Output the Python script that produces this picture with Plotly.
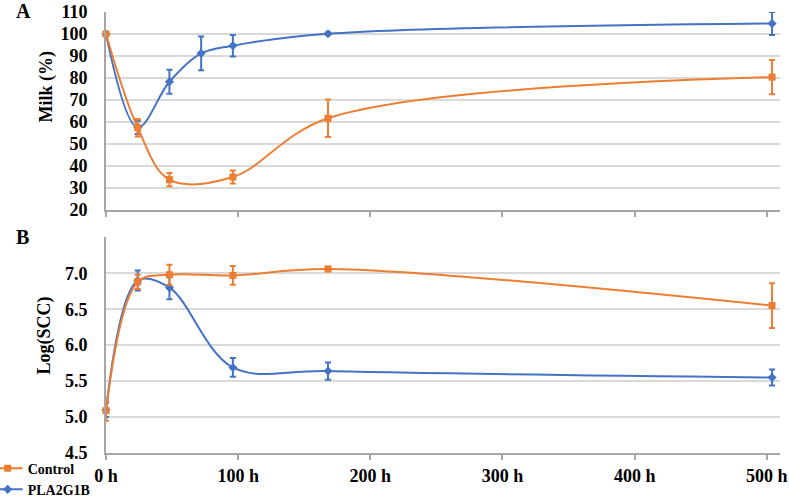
import plotly.graph_objects as go
from plotly.subplots import make_subplots

hours = [0, 24, 48, 72, 96, 168, 504]
hours_ctrl = [0, 24, 48, 96, 168, 504]

# Panel A - milk (%)
milk_ctrl = [100, 57.4, 33.8, 35.0, 61.7, 80.4]
milk_ctrl_err = [0.8, 4.0, 3.0, 3.0, 8.5, 7.8]
milk_pla = [100, 57.5, 78.3, 91.2, 94.7, 100.1, 104.8]
milk_pla_err = [0.8, 3.0, 5.5, 7.7, 4.9, 0.6, 5.2]

# Panel B - log(SCC)
scc_ctrl = [5.09, 6.88, 6.98, 6.97, 7.06, 6.55]
scc_ctrl_err = [0.14, 0.10, 0.14, 0.13, 0.03, 0.31]
scc_pla = [5.10, 6.90, 6.80, 5.69, 5.64, 5.55]
scc_pla_err = [0.10, 0.14, 0.16, 0.13, 0.12, 0.11]
hours_pla_b = [0, 24, 48, 96, 168, 504]

x_ticks = [0, 100, 200, 300, 400, 500]
x_labels = ['0 h', '100 h', '200 h', '300 h', '400 h', '500 h']

ORANGE = '#ED7D31'
BLUE = '#4472C4'
SERIF = 'Liberation Serif'

fig = make_subplots(rows=2, cols=1, vertical_spacing=0.06)


def add_series(x, y, err, name, color, symbol, size, row, show, rank):
    fig.add_trace(go.Scatter(
        x=x, y=y, name=name, mode='lines+markers',
        line=dict(color=color, width=2, shape='spline', smoothing=1),
        marker=dict(color=color, symbol=symbol, size=size),
        error_y=dict(type='data', array=err, color=color, thickness=2, width=3),
        showlegend=show, legendgroup=name, legendrank=rank, cliponaxis=False),
        row=row, col=1)


# PLA2G1B first so Control is drawn on top
add_series(hours, milk_pla, milk_pla_err, 'PLA2G1B', BLUE, 'diamond', 7, 1, True, 2)
add_series(hours_ctrl, milk_ctrl, milk_ctrl_err, 'Control', ORANGE, 'square', 7, 1, True, 1)
add_series(hours_pla_b, scc_pla, scc_pla_err, 'PLA2G1B', BLUE, 'diamond', 7, 2, False, 2)
add_series(hours_ctrl, scc_ctrl, scc_ctrl_err, 'Control', ORANGE, 'square', 7, 2, False, 1)

tickfont = dict(family=SERIF, size=18, color='black', weight='bold')
xcommon = dict(range=[0, 510], tickvals=x_ticks, showgrid=False,
               showline=True, linecolor='#A6A6A6', linewidth=2,
               ticks='outside', ticklen=5, tickcolor='#A6A6A6', tickwidth=2,
               zeroline=False, automargin=False, ticklabeloverflow='allow')
fig.update_xaxes(**xcommon, showticklabels=False, row=1, col=1)
fig.update_xaxes(**xcommon, ticktext=x_labels, tickfont=tickfont, row=2, col=1)

ycommon = dict(showgrid=True, gridcolor='#D9D9D9', gridwidth=1.5,
               showline=True, linecolor='#A6A6A6', linewidth=2,
               zeroline=False, tickfont=tickfont, ticks='outside',
               ticklen=13, tickcolor='rgba(0,0,0,0)', automargin=False,
               ticklabeloverflow='allow')
fig.update_yaxes(**ycommon, range=[20, 110], tickvals=list(range(20, 111, 10)),
                 row=1, col=1)
fig.update_yaxes(**ycommon, range=[4.5, 7.5],
                 tickvals=[4.5, 5.0, 5.5, 6.0, 6.5, 7.0, 7.5],
                 ticktext=['4.5', '5.0', '5.5', '6.0', '6.5', '7.0', ''],
                 row=2, col=1)

fig.update_layout(
    width=789, height=496,
    margin=dict(l=106, r=9, t=12, b=43, autoexpand=False),
    plot_bgcolor='white', paper_bgcolor='white',
    legend=dict(x=-0.1756, y=0.001, xanchor='left', yanchor='top',
                tracegroupgap=0, itemwidth=30,
                font=dict(family=SERIF, size=14, color='black', weight='bold'),
                bgcolor='rgba(0,0,0,0)'),
)
fig.update_layout(
    xaxis=dict(domain=[0, 1]), yaxis=dict(domain=[0.551, 1]),
    xaxis2=dict(domain=[0, 1]), yaxis2=dict(domain=[0, 0.489]),
)

label_font = dict(family=SERIF, size=18, color='black', weight='bold')
fig.add_annotation(text='Milk (%)', textangle=-90, xref='paper', yref='paper',
                   x=-0.0883, y=0.832, xanchor='center', yanchor='middle',
                   showarrow=False, font=label_font)
fig.add_annotation(text='Log(SCC)', textangle=-90, xref='paper', yref='paper',
                   x=-0.0898, y=0.2676, xanchor='center', yanchor='middle',
                   showarrow=False, font=label_font)
panel_font = dict(family=SERIF, size=20, color='black', weight='bold')
fig.add_annotation(text='A', xref='paper', yref='paper', x=-0.1217, y=1.003,
                   xanchor='center', yanchor='middle',
                   showarrow=False, font=panel_font)
fig.add_annotation(text='B', xref='paper', yref='paper', x=-0.1232, y=0.49,
                   xanchor='center', yanchor='middle',
                   showarrow=False, font=panel_font)

# drop the default 8px body margin so the figure fills the window exactly
fig.write_html("out.html", config={'displayModeBar': False},
               post_script="document.body.style.margin='0';")
